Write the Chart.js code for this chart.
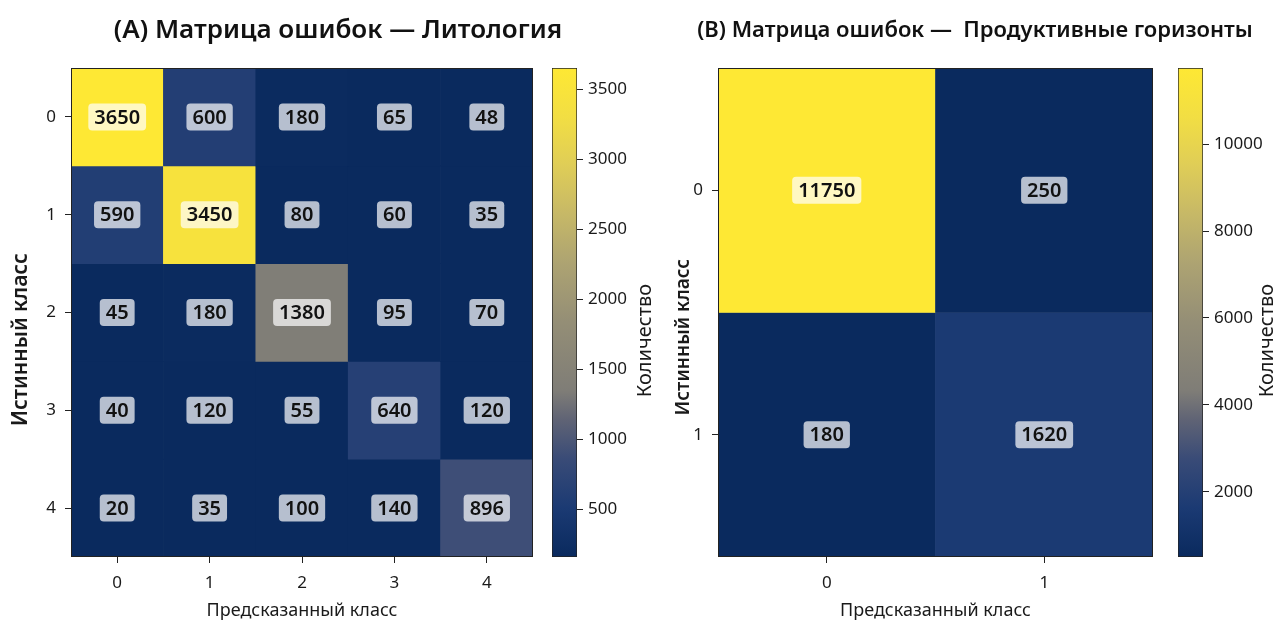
<!DOCTYPE html>
<html>
<head>
<meta charset="utf-8">
<title>Матрицы ошибок</title>
<script src="https://cdn.jsdelivr.net/npm/chart.js@4.4.1/dist/chart.umd.min.js"></script>
<style>
  html, body { margin: 0; padding: 0; background: #ffffff; overflow: hidden; }
  body { width: 1281px; height: 624px; position: relative; }
  canvas { position: absolute; top: 0; }
</style>
</head>
<body>
<canvas id="heatA" width="676" height="624" style="left:0px"></canvas>
<canvas id="barA" width="130" height="624" style="left:540px"></canvas>
<canvas id="heatB" width="610" height="624" style="left:670px"></canvas>
<canvas id="barB" width="115" height="624" style="left:1166px"></canvas>
<script>
// ---- data ----
const lithoClasses = ['0', '1', '2', '3', '4'];
const lithoRow0 = [3650, 600, 180, 65, 48];
const lithoRow1 = [590, 3450, 80, 60, 35];
const lithoRow2 = [45, 180, 1380, 95, 70];
const lithoRow3 = [40, 120, 55, 640, 120];
const lithoRow4 = [20, 35, 100, 140, 896];
const lithoScaleRange = [160, 3650];
const lithoScaleTicks = [500, 1000, 1500, 2000, 2500, 3000, 3500];

const zoneClasses = ['0', '1'];
const zoneRow0 = [11750, 250];
const zoneRow1 = [180, 1620];
const zoneScaleRange = [500, 11750];
const zoneScaleTicks = [2000, 4000, 6000, 8000, 10000];

const titleA = '(A) Матрица ошибок — Литология';
const titleB = '(B) Матрица ошибок —  Продуктивные горизонты';
const xCaption = 'Предсказанный класс';
const yCaption = 'Истинный класс';
const barCaption = 'Количество';

// ---- look ----
const FONT = "'Noto Sans', 'DejaVu Sans', sans-serif";
const INK = '#1a1a1a';
const PLOT_TOP = 68;
const PLOT_BOTTOM = 557;
const H = 624;

// blue → grey → yellow ramp (cividis-like)
const rampStops = [
  [0.00, '#0a2a5e'],
  [0.10, '#1b3a73'],
  [0.20, '#394b77'],
  [0.28, '#5f6375'],
  [0.34, '#7f7d77'],
  [0.48, '#948e76'],
  [0.60, '#ada372'],
  [0.70, '#c6b867'],
  [0.80, '#dfcd57'],
  [0.90, '#f2de43'],
  [1.00, '#fee834']
];
function hexToRgb(h) {
  return [parseInt(h.slice(1, 3), 16), parseInt(h.slice(3, 5), 16), parseInt(h.slice(5, 7), 16)];
}
function ramp(t) {
  t = Math.max(0, Math.min(1, t));
  for (let i = 1; i < rampStops.length; i++) {
    const [t1, c1] = rampStops[i];
    const [t0, c0] = rampStops[i - 1];
    if (t <= t1) {
      const f = (t - t0) / (t1 - t0);
      const a = hexToRgb(c0), b = hexToRgb(c1);
      const m = a.map((v, k) => Math.round(v + (b[k] - v) * f));
      return `rgb(${m[0]},${m[1]},${m[2]})`;
    }
  }
  return rampStops[rampStops.length - 1][1];
}

// frame around the plotting area
const frame = {
  id: 'frame',
  afterDatasetsDraw(chart) {
    const { ctx, chartArea: a } = chart;
    ctx.save();
    ctx.strokeStyle = '#222';
    ctx.lineWidth = 1;
    ctx.strokeRect(Math.round(a.left) + 0.5, Math.round(a.top) + 0.5,
                   Math.round(a.right - a.left) - 1, Math.round(a.bottom - a.top) - 1);
    ctx.restore();
  }
};

// value badges in the middle of each cell
const cellValues = {
  id: 'cellValues',
  afterDatasetsDraw(chart) {
    const ctx = chart.ctx;
    ctx.save();
    ctx.font = `600 20px ${FONT}`;
    ctx.textAlign = 'center';
    ctx.textBaseline = 'middle';
    chart.data.datasets.forEach((ds, di) => {
      chart.getDatasetMeta(di).data.forEach((bar, i) => {
        const { x, y, base } = bar.getProps(['x', 'y', 'base'], true);
        const cy = (y + base) / 2;
        const text = String(ds.values[i]);
        const w = ctx.measureText(text).width + 12;
        const h = 27;
        ctx.fillStyle = 'rgba(255,255,255,0.7)';
        ctx.beginPath();
        ctx.roundRect(x - w / 2, cy - h / 2, w, h, 4);
        ctx.fill();
        ctx.fillStyle = '#111';
        ctx.fillText(text, x, cy + 1);
      });
    });
    ctx.restore();
  }
};

function heatmap(id, o) {
  const [lo, hi] = o.range;
  const datasets = o.rows.map((row, r) => ({
    label: o.classes[r],
    data: row.map(() => [r - 0.5, r + 0.5]),
    values: row,
    backgroundColor: row.map(v => ramp((v - lo) / (hi - lo))),
    borderWidth: 0,
    barPercentage: 1,
    categoryPercentage: 1,
    grouped: false
  }));
  return new Chart(document.getElementById(id), {
    type: 'bar',
    data: { labels: o.classes, datasets },
    plugins: [cellValues, frame],
    options: {
      responsive: false,
      animation: false,
      devicePixelRatio: 1,
      layout: { padding: 0 },
      plugins: {
        legend: { display: false },
        tooltip: { enabled: false },
        title: {
          display: true,
          text: o.title,
          color: '#111',
          font: { family: FONT, size: o.titleSize, weight: '600' },
          padding: { top: 31 - o.titleSize * 0.6, bottom: PLOT_TOP - (31 + o.titleSize * 0.6) }
        }
      },
      scales: {
        x: {
          type: 'category',
          grid: { drawOnChartArea: false, drawTicks: true, tickLength: 6, color: '#222', offset: false },
          border: { display: false },
          ticks: { color: INK, font: { family: FONT, size: 17 }, padding: 10, maxRotation: 0 },
          title: {
            display: true, text: xCaption, color: INK,
            font: { family: FONT, size: 18 }, padding: { top: 0, bottom: 2 }
          },
          afterFit(s) { s.height = H - PLOT_BOTTOM; }
        },
        y: {
          type: 'linear',
          reverse: true,
          min: -0.5,
          max: o.classes.length - 0.5,
          afterBuildTicks(s) { s.ticks = o.classes.map((_, i) => ({ value: i })); },
          grid: { drawOnChartArea: false, drawTicks: true, tickLength: 6, color: '#222' },
          border: { display: false },
          ticks: { color: INK, font: { family: FONT, size: 17 }, padding: 9,
                   callback: v => o.classes[v] },
          title: {
            display: true, text: yCaption + o.yShift, color: INK,
            font: { family: FONT, size: o.ySize, weight: '600' }, padding: { top: o.yPad, bottom: 0 }
          },
          afterFit(s) { s.width = o.left; }
        },
        spare: {
          type: 'linear',
          position: 'right',
          display: true,
          grid: { display: false },
          ticks: { display: false },
          border: { display: false },
          afterFit(s) { s.width = o.right; }
        }
      }
    }
  });
}

// caption of the colour bar, written upwards next to its ticks
const barCaptionPlugin = {
  id: 'barCaption',
  afterDraw(chart, args, opts) {
    const s = chart.scales.y;
    const ctx = chart.ctx;
    ctx.save();
    ctx.font = `20px ${FONT}`;
    ctx.fillStyle = INK;
    ctx.textAlign = 'center';
    ctx.textBaseline = 'middle';
    ctx.translate(s.right - opts.inset, (s.top + s.bottom) / 2 + opts.shift);
    ctx.rotate(-Math.PI / 2);
    ctx.fillText(barCaption, 0, 0);
    ctx.restore();
  }
};

function colourBar(id, o) {
  const [lo, hi] = o.range;
  return new Chart(document.getElementById(id), {
    type: 'bar',
    data: {
      labels: [''],
      datasets: [{
        data: [[lo, hi]],
        backgroundColor(c) {
          const a = c.chart.chartArea;
          if (!a) return rampStops[0][1];
          const g = c.chart.ctx.createLinearGradient(0, a.bottom, 0, a.top);
          rampStops.forEach(([t, col]) => g.addColorStop(t, col));
          return g;
        },
        borderColor: '#222',
        borderWidth: 1,
        borderSkipped: false,
        barPercentage: 1,
        categoryPercentage: 1
      }]
    },
    plugins: [barCaptionPlugin],
    options: {
      responsive: false,
      animation: false,
      devicePixelRatio: 1,
      layout: { padding: { top: PLOT_TOP, bottom: H - PLOT_BOTTOM, left: 12, right: 0 } },
      plugins: {
        legend: { display: false },
        tooltip: { enabled: false },
        barCaption: { inset: o.inset, shift: 28 }
      },
      scales: {
        x: { display: false },
        y: {
          type: 'linear',
          position: 'right',
          min: lo,
          max: hi,
          afterBuildTicks(s) { s.ticks = o.ticks.map(v => ({ value: v })); },
          grid: { drawOnChartArea: false, drawTicks: true, tickLength: 6, color: '#222' },
          border: { display: false },
          ticks: { color: INK, font: { family: FONT, size: 17 }, padding: 5,
                   callback: v => String(v) },
          afterFit(s) { s.width = o.axisWidth; }
        }
      }
    }
  });
}

heatmap('heatA', {
  classes: lithoClasses,
  rows: [lithoRow0, lithoRow1, lithoRow2, lithoRow3, lithoRow4],
  range: lithoScaleRange,
  title: titleA,
  titleSize: 26,
  left: 71, right: 143,
  ySize: 21, yPad: 8, yShift: '\u00a0'.repeat(10)
});
colourBar('barA', { range: lithoScaleRange, ticks: lithoScaleTicks, axisWidth: 93, inset: 25 });

heatmap('heatB', {
  classes: zoneClasses,
  rows: [zoneRow0, zoneRow1],
  range: zoneScaleRange,
  title: titleB,
  titleSize: 22,
  left: 48, right: 127,
  ySize: 19, yPad: 2, yShift: '\u00a0'.repeat(10)
});
colourBar('barB', { range: zoneScaleRange, ticks: zoneScaleTicks, axisWidth: 78, inset: 14 });
</script>
</body>
</html>
